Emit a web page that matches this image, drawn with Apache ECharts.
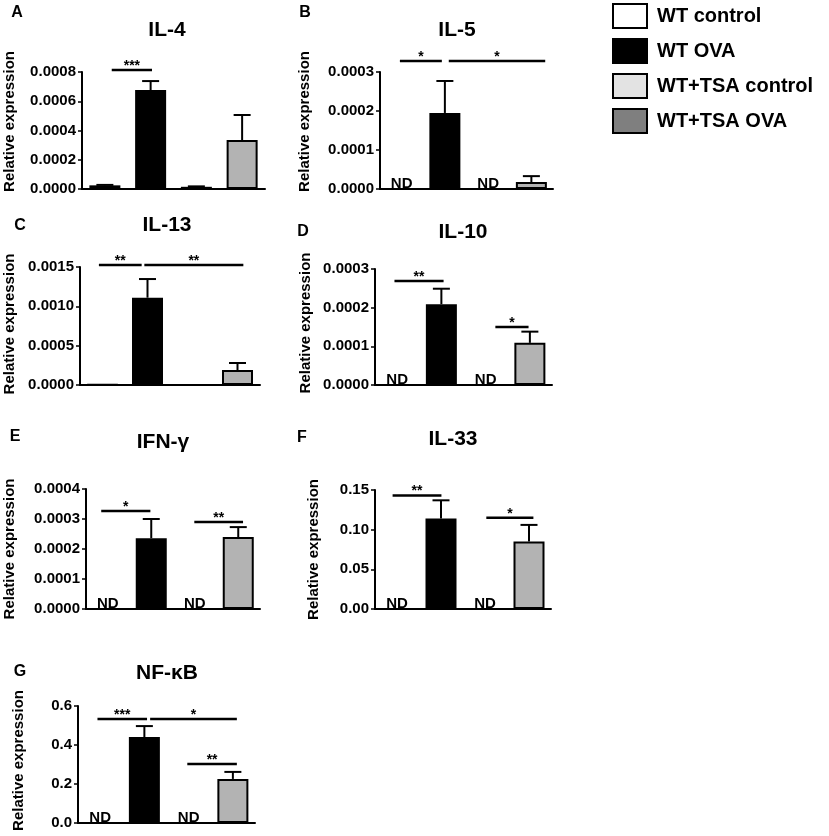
<!DOCTYPE html>
<html>
<head>
<meta charset="utf-8">
<script src="https://cdn.jsdelivr.net/npm/echarts@6/dist/echarts.min.js"></script>
<style>
  html, body { margin: 0; padding: 0; background: #fff; }
  #chart { width: 829px; height: 836px; }
</style>
</head>
<body>
<div id="chart"></div>
<script>
const FONT = '"Liberation Sans", Arial, Helvetica, sans-serif'

// groups / legend
const groups = ['WT control', 'WT OVA', 'WT+TSA control', 'WT+TSA OVA']
const barColors = ['#ffffff', '#000000', '#e6e6e6', '#b3b3b3']
const legendColors = ['#ffffff', '#000000', '#e3e3e3', '#7f7f7f']

// panels
const genes = ['IL-4', 'IL-5', 'IL-13', 'IL-10', 'IFN-γ', 'IL-33', 'NF-κB']
const letters = ['A', 'B', 'C', 'D', 'E', 'F', 'G']

// mean values per group (null = ND)
const il4Mean = [0.000025, 0.000677, 0.000015, 0.000335]
const il5Mean = [null, 0.000195, null, 0.000018]
const il13Mean = [0.000004, 0.00111, 0.000003, 0.00019]
const il10Mean = [null, 0.000209, null, 0.000109]
const ifngMean = [null, 0.000236, null, 0.00024]
const il33Mean = [null, 0.114, null, 0.085]
const nfkbMean = [null, 0.441, null, 0.226]

// SEM (upper error bar)
const il4Sem = [0.000003, 0.000061, 0.000003, 0.000171]
const il5Sem = [null, 0.000082, null, 0.000015]
const il13Sem = [0, 0.000237, 0, 0.00009]
const il10Sem = [null, 0.00004, null, 0.000029]
const ifngSem = [null, 0.000064, null, 0.000033]
const il33Sem = [null, 0.023, null, 0.021]
const nfkbSem = [null, 0.056, null, 0.036]

// significance bars: [from category, to category, y value, stars]
const il4Sig = [[0.15, 1.03, 0.000814, '***']]
const il5Sig = [[-0.04, 0.93, 0.000328, '*'], [1.09, 3.32, 0.000328, '*']]
const il13Sig = [[-0.08, 0.87, 0.001525, '**'], [0.93, 3.13, 0.001525, '**']]
const il10Sig = [[-0.06, 1.05, 0.000269, '**'], [2.22, 2.97, 0.00015, '*']]
const ifngSig = [[-0.15, 0.98, 0.000327, '*'], [1.99, 3.11, 0.00029, '**']]
const il33Sig = [[-0.1, 1.01, 0.143, '**'], [2.03, 3.1, 0.115, '*']]
const nfkbSig = [[-0.06, 1.06, 0.533, '***'], [1.13, 3.09, 0.533, '*'], [1.97, 3.09, 0.303, '**']]

// y axis ticks
const yMax = [0.0008, 0.0003, 0.0015, 0.0003, 0.0004, 0.15, 0.6]
const yStep = [0.0002, 0.0001, 0.0005, 0.0001, 0.0001, 0.05, 0.2]
const yDecimals = [4, 4, 4, 4, 4, 2, 1]

const means = [il4Mean, il5Mean, il13Mean, il10Mean, ifngMean, il33Mean, nfkbMean]
const sems = [il4Sem, il5Sem, il13Sem, il10Sem, ifngSem, il33Sem, nfkbSem]
const sigs = [il4Sig, il5Sig, il13Sig, il10Sig, ifngSig, il33Sig, nfkbSig]

// layout: plot box, title centre, letter centre, axis name gap / upward shift
const layout = [
  { left: 82, top: 72, width: 183, height: 117, title: [167, 30], letter: [17, 13], nameGap: 65, nameShift: 9 },
  { left: 380, top: 72, width: 173, height: 117, title: [457, 30], letter: [305, 13], nameGap: 68, nameShift: 9 },
  { left: 80, top: 267, width: 180, height: 118, title: [167, 225], letter: [20, 226], nameGap: 63, nameShift: 2 },
  { left: 375, top: 269, width: 177, height: 116, title: [463, 232], letter: [303, 232], nameGap: 62, nameShift: 4 },
  { left: 86, top: 489, width: 174, height: 120, title: [163, 442], letter: [15, 437], nameGap: 69, nameShift: 0 },
  { left: 375, top: 490, width: 176, height: 119, title: [453, 439], letter: [302, 438], nameGap: 54, nameShift: 0 },
  { left: 78, top: 706, width: 177, height: 117, title: [167, 673], letter: [20, 672], nameGap: 52, nameShift: 4 }
]

const chart = echarts.init(document.getElementById('chart'), null, { renderer: 'canvas' })

const axisLineStyle = { color: '#000', width: 2 }

const grid = []
const xAxis = []
const yAxis = []
const series = []
const graphic = []

genes.forEach((gene, i) => {
  const L = layout[i]
  grid.push({ left: L.left, top: L.top, width: L.width, height: L.height })
  xAxis.push({
    gridIndex: i,
    type: 'category',
    data: groups,
    axisLine: { lineStyle: axisLineStyle },
    axisTick: { alignWithLabel: true, length: 5, lineStyle: { color: '#000', width: 1.5 } },
    axisLabel: { show: false },
    splitLine: { show: false }
  })
  yAxis.push({
    gridIndex: i,
    type: 'value',
    min: 0,
    max: yMax[i],
    interval: yStep[i],
    axisLine: { show: true, lineStyle: axisLineStyle },
    axisTick: { show: true, length: 4, lineStyle: { color: '#000', width: 1.5 } },
    axisLabel: {
      margin: 6,
      color: '#000',
      fontFamily: FONT,
      fontWeight: 'bold',
      fontSize: 15,
      formatter: v => v.toFixed(yDecimals[i])
    },
    splitLine: { show: false },
    name: 'Relative expression',
    nameLocation: 'middle',
    nameGap: L.nameGap,
    nameTextStyle: {
      color: '#000', fontFamily: FONT, fontWeight: 'bold', fontSize: 15,
      padding: [0, 0, 0, L.nameShift * 2]
    }
  })

  // one bar series per group, overlapped on its own category
  groups.forEach((g, j) => {
    series.push({
      name: g,
      type: 'bar',
      xAxisIndex: i,
      yAxisIndex: i,
      barWidth: 31,
      barGap: '-100%',
      itemStyle: { color: barColors[j], borderColor: '#000', borderWidth: 2 },
      data: means[i].map((v, k) => (k === j && v !== null ? v : '-')),
      z: 2
    })
  })

  // error bars (upward only)
  const errRows = []
  means[i].forEach((v, k) => {
    if (v !== null && sems[i][k] > 0) errRows.push([k, v, v + sems[i][k]])
  })
  series.push({
    type: 'custom',
    xAxisIndex: i,
    yAxisIndex: i,
    data: errRows,
    encode: { x: 0, y: [1, 2] },
    z: 1,
    silent: true,
    renderItem: (params, api) => {
      const base = api.coord([api.value(0), api.value(1)])
      const top = api.coord([api.value(0), api.value(2)])
      const style = { stroke: '#000', lineWidth: 2 }
      return {
        type: 'group',
        children: [
          { type: 'line', shape: { x1: base[0], y1: base[1], x2: top[0], y2: top[1] }, style },
          { type: 'line', shape: { x1: top[0] - 8.5, y1: top[1], x2: top[0] + 8.5, y2: top[1] }, style }
        ]
      }
    }
  })

  // ND labels
  const ndRows = []
  means[i].forEach((v, k) => { if (v === null) ndRows.push([k, 0]) })
  series.push({
    type: 'custom',
    xAxisIndex: i,
    yAxisIndex: i,
    data: ndRows,
    encode: { x: 0, y: 1 },
    silent: true,
    z: 3,
    renderItem: (params, api) => {
      const p = api.coord([api.value(0), 0])
      return {
        type: 'text',
        x: p[0],
        y: p[1] + 2,
        style: {
          text: 'ND', fill: '#000', font: 'bold 15px ' + FONT,
          align: 'center', verticalAlign: 'bottom'
        }
      }
    }
  })

  // significance brackets
  const sig = sigs[i]
  series.push({
    type: 'custom',
    xAxisIndex: i,
    yAxisIndex: i,
    data: sig.map(s => [0, s[2]]),
    encode: { x: 0, y: 1 },
    silent: true,
    z: 3,
    renderItem: (params, api) => {
      const s = sig[params.dataIndex]
      const p0 = api.coord([0, api.value(1)])
      const bw = api.size([1, 0])[0]
      const x1 = p0[0] + s[0] * bw
      const x2 = p0[0] + s[1] * bw
      return {
        type: 'group',
        children: [
          { type: 'line', shape: { x1, y1: p0[1], x2, y2: p0[1] }, style: { stroke: '#000', lineWidth: 2.5 } },
          {
            type: 'text', x: (x1 + x2) / 2, y: p0[1] + 3,
            style: { text: s[3], fill: '#000', font: 'bold 14px ' + FONT, align: 'center', verticalAlign: 'bottom' }
          }
        ]
      }
    }
  })

  graphic.push({
    type: 'text', x: L.title[0], y: L.title[1],
    style: { text: gene, fill: '#000', font: 'bold 21px ' + FONT, align: 'center', verticalAlign: 'middle' }
  })
  graphic.push({
    type: 'text', x: L.letter[0], y: L.letter[1],
    style: { text: letters[i], fill: '#000', font: 'bold 16px ' + FONT, align: 'center', verticalAlign: 'middle' }
  })
})

const option = {
  animation: false,
  backgroundColor: '#fff',
  legend: {
    orient: 'vertical',
    left: 607,
    top: -2,
    icon: 'rect',
    itemWidth: 34,
    itemHeight: 24,
    itemGap: 9,
    selectedMode: false,
    textStyle: {
      color: '#000', fontFamily: FONT, fontWeight: 'bold', fontSize: 20,
      lineHeight: 24, padding: [0, 0, 0, 5]
    },
    data: groups.map((g, j) => ({
      name: g,
      itemStyle: { color: legendColors[j], borderColor: '#000', borderWidth: 2 }
    }))
  },
  grid,
  xAxis,
  yAxis,
  series,
  graphic
}

chart.setOption(option)
</script>
</body>
</html>
